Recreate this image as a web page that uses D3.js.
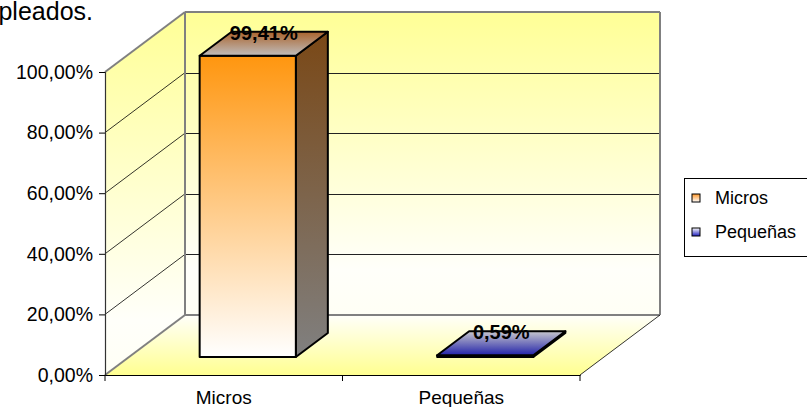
<!DOCTYPE html>
<html>
<head>
<meta charset="utf-8">
<script src="https://cdnjs.cloudflare.com/ajax/libs/d3/7.8.5/d3.min.js"></script>
<style>
	body { margin: 0; background: #fff; }
	text { font-family: Arial, "Liberation Sans", sans-serif; }
</style>
</head>
<body>
<div id="js_chart"></div>
<script>
/*globals d3*/
'use strict';

// chart data
const categories = ['Micros', 'Pequeñas'];
const values = [0.9941, 0.0059];
const valueLabels = ['99,41%', '0,59%'];
const yTicks = [0, 0.2, 0.4, 0.6, 0.8, 1];
const titleText = 'pleados.';

const width = 807;
const height = 407;
// front plane and depth offset of the 3d box
const plot = { left: 105, right: 580, top: 72, bottom: 375 };
const depth = { dx: 80, dy: -60 };
const barDepth = { from: 0.3, to: 0.7 };
const barWidthRatio = 0.405;
const grey = '#808080';
const fontFamily = 'Arial, "Liberation Sans", sans-serif';

let svg = d3.select('#js_chart').append('svg')
	.attr('width', width)
	.attr('height', height);

let defs = svg.append('defs');

function addGradient(id, stops) {
	let g = defs.append('linearGradient')
		.attr('id', id)
		.attr('x1', '0%').attr('y1', '0%')
		.attr('x2', '0%').attr('y2', '100%');
	g.selectAll('stop')
		.data(stops).enter().append('stop')
		.attr('offset', function (d) { return d[0]; })
		.attr('stop-color', function (d) { return d[1]; });
}

addGradient('wallGrad', [[0, 'rgb(255,255,150)'], [0.85, 'rgb(255,255,250)'], [1, 'rgb(255,255,245)']]);
addGradient('floorGrad', [[0, 'rgb(255,255,250)'], [1, 'rgb(255,255,145)']]);
addGradient('microFront', [[0, 'rgb(255,150,15)'], [1, 'rgb(255,255,255)']]);
addGradient('microSide', [[0, 'rgb(122,72,22)'], [1, 'rgb(128,128,128)']]);
addGradient('microTop', [[0, 'rgb(170,100,45)'], [1, 'rgb(192,190,190)']]);
addGradient('pequeTop', [[0, 'rgb(200,200,205)'], [1, 'rgb(35,35,170)']]);
addGradient('pequeFront', [[0, 'rgb(35,35,170)'], [1, 'rgb(35,35,170)']]);
addGradient('legMicros', [[0, 'rgb(255,150,40)'], [1, 'rgb(255,255,255)']]);
addGradient('legPeque', [[0, 'rgb(255,255,255)'], [1, 'rgb(30,30,190)']]);

const barFills = [
	{ front: 'url(#microFront)', side: 'url(#microSide)', top: 'url(#microTop)', legend: 'url(#legMicros)' },
	{ front: 'url(#pequeFront)', side: 'url(#pequeTop)', top: 'url(#pequeTop)', legend: 'url(#legPeque)' }
];

let xScale = d3.scaleBand()
	.domain(categories)
	.range([plot.left, plot.right])
	.padding(0);

let yScale = d3.scaleLinear()
	.domain([0, 1])
	.range([plot.bottom, plot.top]);

// project a point of the front plane to a given depth (0 = front, 1 = back)
function proj(x, y, t) {
	return [x + depth.dx * t, y + depth.dy * t];
}

function pts(list) {
	return list.map(function (p) { return p[0] + ',' + p[1]; }).join(' ');
}

let y0 = yScale(0);
let y1 = yScale(1);

// walls and floor
svg.append('polygon')
	.attr('points', pts([proj(plot.left, y1, 1), proj(plot.right, y1, 1), proj(plot.right, y0, 1), proj(plot.left, y0, 1)]))
	.attr('fill', 'url(#wallGrad)');
svg.append('polygon')
	.attr('points', pts([proj(plot.left, y1, 0), proj(plot.left, y1, 1), proj(plot.left, y0, 1), proj(plot.left, y0, 0)]))
	.attr('fill', 'url(#wallGrad)');
svg.append('polygon')
	.attr('points', pts([proj(plot.left, y0, 0), proj(plot.right, y0, 0), proj(plot.right, y0, 1), proj(plot.left, y0, 1)]))
	.attr('fill', 'url(#floorGrad)');

// gridlines on the side wall and back wall
let gridVals = yTicks.filter(function (d) { return d > 0 && d < 1; });
let grid = svg.append('g');
grid.selectAll('.gridSide')
	.data(gridVals).enter().append('line')
	.attr('x1', plot.left).attr('y1', function (d) { return yScale(d); })
	.attr('x2', plot.left + depth.dx).attr('y2', function (d) { return yScale(d) + depth.dy; })
	.style('stroke', '#000').style('stroke-width', 0.8);
grid.selectAll('.gridBack')
	.data(gridVals).enter().append('line')
	.attr('x1', plot.left + depth.dx).attr('y1', function (d) { return Math.round(yScale(d) + depth.dy) + 0.5; })
	.attr('x2', plot.right + depth.dx).attr('y2', function (d) { return Math.round(yScale(d) + depth.dy) + 0.5; })
	.style('stroke', '#222').style('stroke-width', 1);

// grey wall edges
let edges = [
	[proj(plot.left, y1, 0), proj(plot.left, y1, 1)],
	[proj(plot.left, y1, 1), proj(plot.right, y1, 1)],
	[proj(plot.right, y1, 1), proj(plot.right, y0, 1)],
	[proj(plot.left, y1, 1), proj(plot.left, y0, 1)],
	[proj(plot.left, y0, 1), proj(plot.right, y0, 1)],
	[proj(plot.left, y0, 0), proj(plot.left, y0, 1)]
];
svg.append('g').selectAll('line')
	.data(edges).enter().append('line')
	.attr('x1', function (d) { return d[0][0]; })
	.attr('y1', function (d) { return d[0][1]; })
	.attr('x2', function (d) { return d[1][0]; })
	.attr('y2', function (d) { return d[1][1]; })
	.style('stroke', grey).style('stroke-width', 2);

// floor right edge
svg.append('line')
	.attr('x1', plot.right).attr('y1', y0)
	.attr('x2', plot.right + depth.dx).attr('y2', y0 + depth.dy)
	.style('stroke', '#000').style('stroke-width', 0.8);

// bars
let bars = svg.append('g').selectAll('g')
	.data(categories).enter().append('g');

bars.each(function (c, i) {
	let g = d3.select(this);
	let bw = xScale.bandwidth() * barWidthRatio;
	let xl = xScale(c) + (xScale.bandwidth() - bw) / 2;
	let xr = xl + bw;
	let yb = yScale(0);
	let yt = yScale(values[i]);
	let f = barDepth.from;
	let b = barDepth.to;
	let fill = barFills[i];
	// side face
	g.append('polygon')
		.attr('points', pts([proj(xr, yt, f), proj(xr, yt, b), proj(xr, yb, b), proj(xr, yb, f)]))
		.attr('fill', fill.side).attr('stroke', '#000').attr('stroke-width', 2).attr('stroke-linejoin', 'round');
	// front face
	g.append('polygon')
		.attr('points', pts([proj(xl, yt, f), proj(xr, yt, f), proj(xr, yb, f), proj(xl, yb, f)]))
		.attr('fill', fill.front).attr('stroke', '#000').attr('stroke-width', 2).attr('stroke-linejoin', 'round');
	// top face
	g.append('polygon')
		.attr('points', pts([proj(xl, yt, f), proj(xl, yt, b), proj(xr, yt, b), proj(xr, yt, f)]))
		.attr('fill', fill.top).attr('stroke', '#000').attr('stroke-width', 2).attr('stroke-linejoin', 'round');
	// value label over the middle of the top face
	let mid = proj((xl + xr) / 2, yt, (f + b) / 2);
	g.append('text')
		.attr('x', mid[0])
		.attr('y', mid[1] - 4)
		.attr('text-anchor', 'middle')
		.style('font-size', '20px')
		.style('font-weight', 'bold')
		.text(valueLabels[i]);
});

// y axis
let yAxis = d3.axisLeft(yScale)
	.tickValues(yTicks)
	.tickSize(6)
	.tickPadding(6)
	.tickFormat(function (d) { return d3.format('.2f')(d * 100).replace('.', ',') + '%'; });
let yAxisG = svg.append('g')
	.attr('transform', 'translate(' + plot.left + ',0)')
	.call(yAxis);
yAxisG.select('.domain').attr('stroke', '#333').attr('stroke-width', 1.2);
yAxisG.selectAll('.tick line').attr('stroke', '#000');
yAxisG.selectAll('text')
	.style('font-size', '19.5px')
	.attr('fill', '#000')
	.style('font-family', fontFamily);

// x axis, ticks at the category boundaries
let xAxis = d3.axisBottom(xScale).tickSize(0).tickPadding(15.5);
let xAxisG = svg.append('g')
	.attr('transform', 'translate(0,' + y0 + ')')
	.call(xAxis);
xAxisG.select('.domain').attr('stroke', '#000').attr('stroke-width', 1.2);
xAxisG.selectAll('text')
	.style('font-size', '19px')
	.attr('fill', '#000')
	.style('font-family', fontFamily);
let bounds = categories.map(function (c) { return xScale(c); }).concat([plot.right]);
xAxisG.selectAll('.bound')
	.data(bounds).enter().append('line')
	.attr('x1', function (d) { return d; }).attr('x2', function (d) { return d; })
	.attr('y1', 0).attr('y2', 6)
	.attr('stroke', '#000');

// title remainder
svg.append('text')
	.attr('x', 93)
	.attr('y', 20)
	.attr('text-anchor', 'end')
	.style('font-size', '25px')
	.text(titleText);

// legend
let legend = svg.append('g').attr('transform', 'translate(684,178)');
legend.append('rect')
	.attr('x', 0.5).attr('y', 0.5)
	.attr('width', 140).attr('height', 78)
	.attr('fill', '#fff').attr('stroke', '#000');
let items = legend.selectAll('.legItem')
	.data(categories).enter().append('g')
	.attr('transform', function (d, i) { return 'translate(8,' + (16 + i * 34) + ')'; });
items.append('rect')
	.attr('width', 8).attr('height', 8)
	.attr('fill', function (d, i) { return barFills[i].legend; })
	.attr('stroke', '#000').attr('stroke-width', 1);
items.append('text')
	.attr('x', 23).attr('y', 10)
	.style('font-size', '18px')
	.text(function (d) { return d; });
</script>
</body>
</html>
